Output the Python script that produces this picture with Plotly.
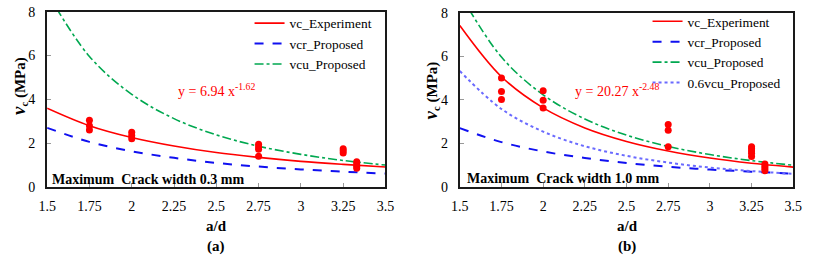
import plotly.graph_objects as go

# ---------------- data ----------------
ad_curve = [1.5, 1.75, 2.0, 2.25, 2.5, 2.75, 3.0, 3.25, 3.5]

# panel (a): max crack width 0.3 mm
vc_exp_a = [3.60, 2.80, 2.26, 1.87, 1.57, 1.35, 1.17, 1.03, 0.91]
# panel (b): max crack width 1.0 mm
vc_exp_b = [7.41, 5.06, 3.63, 2.71, 2.09, 1.65, 1.33, 1.09, 0.91]
# proposed models (same in both panels)
vcr_prop = [2.70, 2.06, 1.63, 1.33, 1.10, 0.93, 0.80, 0.70, 0.61]
vcu_prop = [8.87, 5.96, 4.23, 3.12, 2.38, 1.86, 1.49, 1.21, 1.00]
vcu06_prop = [5.32, 3.58, 2.54, 1.87, 1.43, 1.12, 0.89, 0.73, 0.60]

# measured points
pts_x_a = [1.75, 1.75, 1.75, 2.0, 2.0, 2.0, 2.75, 2.75, 2.75, 2.75,
           3.25, 3.25, 3.25, 3.33, 3.33, 3.33, 3.33]
pts_y_a = [3.05, 2.80, 2.60, 2.50, 2.35, 2.20, 1.95, 1.82, 1.72, 1.40,
           1.75, 1.65, 1.55, 1.15, 1.05, 0.95, 0.85]
pts_x_b = [1.75, 1.75, 1.75, 2.0, 2.0, 2.0, 2.75, 2.75, 2.75,
           3.25, 3.25, 3.25, 3.25, 3.25, 3.33, 3.33, 3.33, 3.33]
pts_y_b = [5.00, 4.38, 4.02, 4.42, 3.98, 3.63, 2.87, 2.60, 1.85,
           1.85, 1.75, 1.65, 1.55, 1.40, 1.05, 0.95, 0.85, 0.75]

x_ticks = [1.5, 1.75, 2.0, 2.25, 2.5, 2.75, 3.0, 3.25, 3.5]
x_tick_labels = ["1.5", "1.75", "2", "2.25", "2.5", "2.75", "3", "3.25", "3.5"]
y_ticks = [0, 2, 4, 6, 8]
y_tick_labels = ["0", "2", "4", "6", "8"]

FONT = "Liberation Serif"
RED = "#FF0000"
BLUE = "#1010F0"
GREEN = "#00A850"
LBLUE = "#6A6AFF"

W, H = 813, 260
fig = go.Figure()

def px_x(p):
    return p / W

def px_y(p):
    return 1 - p / H

# ---- panel (a) ----
fig.add_trace(go.Scatter(x=ad_curve, y=vc_exp_a, mode="lines", name="vc_Experiment",
                         line=dict(color=RED, width=1.6, shape="spline"),
                         xaxis="x", yaxis="y", legend="legend"))
fig.add_trace(go.Scatter(x=ad_curve, y=vcr_prop, mode="lines", name="vcr_Proposed",
                         line=dict(color=BLUE, width=2, dash="dash", shape="spline"),
                         xaxis="x", yaxis="y", legend="legend"))
fig.add_trace(go.Scatter(x=ad_curve, y=vcu_prop, mode="lines", name="vcu_Proposed",
                         line=dict(color=GREEN, width=1.6, dash="dashdot", shape="spline"),
                         xaxis="x", yaxis="y", legend="legend"))
fig.add_trace(go.Scatter(x=pts_x_a, y=pts_y_a, mode="markers", showlegend=False,
                         marker=dict(color=RED, size=7), xaxis="x", yaxis="y"))

# ---- panel (b) ----
fig.add_trace(go.Scatter(x=ad_curve, y=vc_exp_b, mode="lines", name="vc_Experiment",
                         line=dict(color=RED, width=1.6, shape="spline"),
                         xaxis="x2", yaxis="y2", legend="legend2"))
fig.add_trace(go.Scatter(x=ad_curve, y=vcr_prop, mode="lines", name="vcr_Proposed",
                         line=dict(color=BLUE, width=2, dash="dash", shape="spline"),
                         xaxis="x2", yaxis="y2", legend="legend2"))
fig.add_trace(go.Scatter(x=ad_curve, y=vcu_prop, mode="lines", name="vcu_Proposed",
                         line=dict(color=GREEN, width=1.6, dash="dashdot", shape="spline"),
                         xaxis="x2", yaxis="y2", legend="legend2"))
fig.add_trace(go.Scatter(x=ad_curve, y=vcu06_prop, mode="lines", name="0.6vcu_Proposed",
                         line=dict(color=LBLUE, width=2, dash="dot", shape="spline"),
                         xaxis="x2", yaxis="y2", legend="legend2"))
fig.add_trace(go.Scatter(x=pts_x_b, y=pts_y_b, mode="markers", showlegend=False,
                         marker=dict(color=RED, size=7), xaxis="x2", yaxis="y2"))

axis_common = dict(showgrid=False, zeroline=False, showline=True, mirror=True,
                   linecolor="#1a1a1a", linewidth=2, ticks="inside", ticklen=4,
                   tickcolor="#999999", tickwidth=1, ticklabeloverflow="allow",
                   tickfont=dict(family=FONT, size=14, color="black"))

LEGFONT = dict(family=FONT, size=13.4, color="black")
fig.update_layout(
    width=W, height=H, margin=dict(l=0, r=0, t=0, b=0),
    paper_bgcolor="white", plot_bgcolor="white",
    font=dict(family=FONT),
    showlegend=True,
    xaxis=dict(domain=[px_x(39), px_x(385)], range=[1.5, 3.5], anchor="y",
               tickvals=x_ticks, ticktext=x_tick_labels, ticklabelstandoff=5,
               **axis_common),
    yaxis=dict(domain=[px_y(191), px_y(5)], range=[0, 8], anchor="x",
               tickvals=y_ticks, ticktext=y_tick_labels, ticklabelstandoff=7,
               **axis_common),
    xaxis2=dict(domain=[px_x(461), px_x(802)], range=[1.5, 3.5], anchor="y2",
                tickvals=x_ticks, ticktext=x_tick_labels, ticklabelstandoff=5,
                **axis_common),
    yaxis2=dict(domain=[px_y(191), px_y(6)], range=[0, 8], anchor="x2",
                tickvals=y_ticks, ticktext=y_tick_labels, ticklabelstandoff=7,
                **axis_common),
    legend=dict(x=px_x(246), y=px_y(1), xanchor="left", yanchor="top",
                bgcolor="rgba(0,0,0,0)", font=LEGFONT, tracegroupgap=0, itemwidth=30),
    legend2=dict(x=px_x(653), y=px_y(-1), xanchor="left", yanchor="top",
                 bgcolor="rgba(0,0,0,0)", font=LEGFONT, tracegroupgap=0, itemwidth=30),
)

ann = []
def add_text(cx, cy, text, size=14, color="black", xanchor="center", yanchor="middle", angle=0):
    ann.append(dict(x=px_x(cx), y=px_y(cy), xref="paper", yref="paper", showarrow=False,
                    xanchor=xanchor, yanchor=yanchor, textangle=angle, text=text,
                    font=dict(family=FONT, size=size, color=color)))

# equations
add_text(212, 88, "y = 6.94 x<sup>-1.62</sup>", color=RED)
add_text(622, 88, "y = 20.27 x<sup>-2.48</sup>", color=RED)
# crack width labels
add_text(42, 183, "<b>Maximum&nbsp; Crack width 0.3 mm</b>", xanchor="left")
add_text(466, 182, "<b>Maximum&nbsp; Crack width 1.0 mm</b>", xanchor="left")
# axis titles
for cx, lab in [(212, "(a)"), (632, "(b)")]:
    add_text(cx, 232, "<b>a/d</b>", size=15)
    add_text(cx, 254, "<b>" + lab + "</b>", size=15)
for cx, cy in [(10, 84), (431, 88)]:
    add_text(cx, cy, "<b><i><span style='font-size:19px'>v</span></i><sub>c</sub> (MPa)</b>",
             size=15, angle=-90)
fig.update_layout(annotations=ann)

fig.write_html("out.html", config={"displayModeBar": False},
               post_script="document.body.style.margin='0';")
